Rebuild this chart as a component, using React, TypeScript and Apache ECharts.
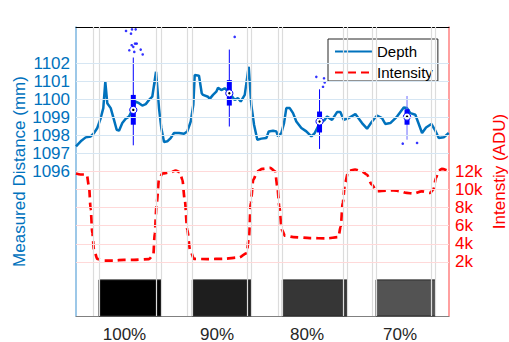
import React, { useEffect, useRef } from "react";
import * as echarts from "echarts";

// ---- data ----
const depthT = [0, 0.95, 1.95, 2.96, 3.62, 4.28, 4.97, 5.49, 5.89, 6.29, 6.98, 7.64, 8.18, 8.65, 9.31, 9.99, 10.66, 11.32, 12.0, 12.67, 13.33, 14.02, 14.68, 15.34, 16.09, 16.69, 17.15, 17.7, 18.36, 19.04, 19.71, 20.71, 21.72, 22.38, 23.07, 23.59, 23.87, 24.73, 25.28, 25.54, 26.54, 26.89, 27.55, 28.21, 28.56, 29.22, 29.9, 30.91, 31.91, 32.58, 33.12, 33.93, 34.73, 35.25, 35.8, 36.46, 37.27, 38.27, 38.75, 39.62, 40.28, 40.62, 41.29, 41.83, 42.29, 42.98, 43.64, 44.3, 45.31, 46.31, 47.32, 48.0, 49.01, 50.01, 50.48, 51.48, 52.49, 53.15, 53.83, 54.84, 56.17, 57.51, 58.52, 59.52, 60.53, 61.53, 62.2, 63.2, 64.55, 65.9, 66.56, 67.23, 68.23, 68.92, 69.58, 70.39, 71.45, 72.26, 72.94, 73.95, 74.95];
const depthMM = [1097.39, 1097.67, 1097.89, 1097.94, 1098.13, 1098.41, 1098.96, 1099.51, 1100.97, 1099.78, 1099.51, 1098.86, 1098.31, 1098.26, 1098.68, 1098.92, 1099.04, 1099.41, 1099.87, 1099.78, 1099.65, 1099.73, 1099.96, 1100.14, 1101.52, 1099.51, 1098.41, 1097.63, 1097.67, 1097.85, 1098.13, 1098.13, 1098.09, 1098.22, 1098.77, 1099.69, 1101.34, 1101.3, 1100.33, 1100.24, 1100.14, 1100.02, 1100.24, 1100.42, 1100.64, 1100.51, 1100.61, 1100.33, 1099.96, 1100.06, 1099.87, 1100.24, 1101.8, 1099.69, 1098.59, 1097.76, 1097.82, 1097.85, 1098.22, 1098.26, 1098.22, 1097.94, 1098.13, 1098.68, 1099.51, 1099.51, 1099.23, 1098.77, 1098.41, 1098.22, 1097.94, 1098.13, 1098.68, 1098.86, 1099.04, 1098.86, 1099.29, 1099.29, 1098.86, 1098.96, 1099.18, 1098.68, 1098.37, 1098.77, 1099.1, 1098.96, 1098.63, 1098.68, 1099.04, 1099.54, 1099.51, 1099.23, 1099.14, 1098.63, 1098.13, 1098.44, 1098.63, 1098.26, 1097.85, 1097.89, 1098.13];

const intensityT = [0, 0.95, 2.15, 2.61, 2.96, 3.28, 3.62, 4.28, 5.63, 7.64, 9.65, 11.66, 14.68, 15.55, 15.83, 16.23, 16.69, 17.36, 19.04, 20.05, 20.91, 21.38, 21.86, 22.38, 22.93, 23.73, 26.4, 29.76, 32.78, 34.33, 34.79, 35.13, 35.66, 36.46, 37.47, 39.01, 40.02, 40.48, 40.88, 41.37, 42.03, 43.7, 47.06, 50.42, 52.75, 53.23, 53.63, 54.1, 54.76, 56.11, 57.45, 58.46, 59.46, 60.47, 62.48, 63.81, 65.16, 66.5, 67.83, 69.52, 71.19, 71.85, 72.39, 72.86, 73.54, 74.55];
const intensityADU = [11780, 11670, 11670, 10370, 7780, 5190, 3330, 2330, 2140, 2140, 2220, 2220, 2300, 2780, 5190, 8520, 11110, 11780, 11920, 12110, 11920, 11110, 8890, 5560, 3330, 2330, 2300, 2330, 2480, 2970, 4810, 8520, 11110, 12030, 12300, 12410, 12030, 10370, 8140, 5560, 4890, 4740, 4630, 4590, 4740, 5920, 8520, 10740, 12030, 12220, 12030, 11670, 10560, 9810, 9890, 9920, 9810, 9630, 9560, 9810, 9630, 10000, 11300, 12030, 12300, 12140];

const categories = ["100%", "90%", "80%", "70%"];
const categoryLabelT = [9.75, 28.36, 46.46, 65.16];
const targetStart = [4.62, 23.39, 41.49, 60.33];
const targetEnd = [17.15, 35.25, 54.5, 72.26];
const targetShade = ["#000000", "#1e1e1e", "#363636", "#535353"];
const transitionT = [3.42, 16.09, 22.32, 34.39, 40.62, 53.69, 59.52, 71.39];

const boxT = [11.52, 30.83, 48.97, 66.56];
const boxLow = [1097.45, 1098.49, 1097.25, 1097.76];
const boxQ1 = [1098.59, 1099.65, 1098.16, 1098.59];
const boxMed = [1099.41, 1100.33, 1098.77, 1099.04];
const boxQ3 = [1100.24, 1101.06, 1099.32, 1099.45];
const boxHigh = [1102.31, 1102.75, 1100.55, 1100.18];

const outlierT = [10.06, 11.06, 11.26, 12.0, 11.87, 12.21, 11.52, 10.72, 11.72, 13.01, 13.41, 11.2, 31.91, 48.32, 49.87, 50.01, 49.67, 65.7, 68.58];
const outlierMM = [1103.78, 1103.63, 1103.87, 1103.87, 1103.08, 1103.08, 1102.9, 1102.71, 1102.62, 1102.75, 1102.48, 1102.99, 1103.45, 1101.24, 1101.16, 1100.93, 1100.69, 1097.54, 1097.58];

const leftTicks = [1096, 1097, 1098, 1099, 1100, 1101, 1102];
const rightTicks = [2000, 4000, 6000, 8000, 10000, 12000];

const FONT = "'Liberation Sans', Arial, sans-serif";
const BLUE = "#0072BD";
const RED = "#FF0000";

export default function App() {
  const ref = useRef<HTMLDivElement>(null);
  useEffect(() => {
    document.body.style.margin = "0";
    const chart = echarts.init(ref.current!, null, { renderer: "svg" });
    const depthData = depthT.map((t, i) => [t, depthMM[i]]);
    const intData = intensityT.map((t, i) => [t, intensityADU[i]]);
    const boxData = boxT.map((t, i) => [t, boxLow[i], boxQ1[i], boxMed[i], boxQ3[i], boxHigh[i]]);
    const outData = outlierT.map((t, i) => [t, outlierMM[i]]);
    const vLines = [
      ...targetStart.map((v) => ({ xAxis: v })),
      ...targetEnd.map((v) => ({ xAxis: v })),
      ...transitionT.map((v) => ({ xAxis: v })),
    ];
    const option: any = {
      animation: false,
      textStyle: { fontFamily: FONT },
      grid: { left: 76, top: 27, right: 60, bottom: 26, containLabel: false, outerBoundsMode: "none" },
      legend: {
        data: ["Depth", "Intensity"],
        orient: "vertical",
        left: 328,
        top: 39,
        padding: [5, 5, 1, 6],
        itemGap: 6,
        itemWidth: 37,
        itemHeight: 14,
        backgroundColor: "#ffffff",
        borderColor: "#262626",
        borderWidth: 1,
        borderRadius: 0,
        itemStyle: { opacity: 0 },
        textStyle: { fontSize: 15, color: "#000", fontFamily: FONT },
      },
      xAxis: [
        {
          type: "value",
          position: "bottom",
          min: 0,
          max: 75,
          axisLine: { show: true, onZero: false, lineStyle: { color: "#808080", width: 1 } },
          axisTick: { show: false },
          splitLine: { show: false },
          axisLabel: {
            customValues: categoryLabelT,
            formatter: (v: number) => {
              let best = 0;
              categoryLabelT.forEach((c, i) => {
                if (Math.abs(c - v) < Math.abs(categoryLabelT[best] - v)) best = i;
              });
              return categories[best];
            },
            fontSize: 17,
            color: "#262626",
            margin: 10,
            fontFamily: FONT,
          },
        },
        {
          type: "value",
          position: "top",
          min: 0,
          max: 75,
          axisLine: { show: true, onZero: false, lineStyle: { color: "#000", width: 1 } },
          axisTick: {
            show: true,
            inside: true,
            length: 4,
            customValues: [...targetStart, ...targetEnd],
            lineStyle: { color: "#333" },
          },
          axisLabel: { show: false },
          splitLine: { show: false },
        },
      ],
      yAxis: [
        {
          type: "value",
          position: "left",
          min: 1088,
          max: 1104,
          name: "Measured Distance (mm)",
          nameLocation: "middle",
          nameRotate: 90,
          nameGap: 48,
          nameMoveOverlap: false,
          nameTextStyle: { color: BLUE, fontSize: 17, fontFamily: FONT },
          axisLine: { show: true, onZero: false, lineStyle: { color: "#7db6e0", width: 1.5 } },
          axisTick: { show: true, inside: true, length: 4, customValues: leftTicks, lineStyle: { color: BLUE } },
          axisLabel: {
            customValues: leftTicks,
            formatter: (v: number) => String(v),
            color: BLUE,
            fontSize: 17,
            margin: 6,
            fontFamily: FONT,
          },
          splitLine: { show: false },
        },
        {
          type: "value",
          position: "right",
          min: -4000,
          max: 28000,
          name: "Intenstiy (ADU)",
          nameLocation: "middle",
          nameRotate: 90,
          nameGap: 42,
          nameMoveOverlap: false,
          nameTextStyle: { color: RED, fontSize: 17, fontFamily: FONT },
          axisLine: { show: true, onZero: false, lineStyle: { color: "#ff8080", width: 1.5 } },
          axisTick: { show: true, inside: true, length: 4, customValues: rightTicks, lineStyle: { color: RED } },
          axisLabel: {
            customValues: rightTicks,
            formatter: (v: number) => v / 1000 + "k",
            color: RED,
            fontSize: 17,
            margin: 6,
            fontFamily: FONT,
          },
          splitLine: { show: false },
        },
        {
          type: "value",
          position: "right",
          min: 1088,
          max: 1104,
          axisLine: { show: false, onZero: false },
          axisTick: { show: true, inside: true, length: 4, customValues: leftTicks, lineStyle: { color: BLUE } },
          axisLabel: { show: false },
          splitLine: { show: false },
        },
      ],
      series: [
        {
          name: "gridV",
          type: "line",
          data: [],
          xAxisIndex: 0,
          yAxisIndex: 0,
          z: 1,
          silent: true,
          markLine: {
            silent: true,
            symbol: "none",
            label: { show: false },
            lineStyle: { color: "#dcdcdc", width: 1.2, type: "solid" },
            data: vLines,
          },
        },
        {
          name: "gridL",
          type: "line",
          data: [],
          yAxisIndex: 0,
          z: 1,
          silent: true,
          markLine: {
            silent: true,
            symbol: "none",
            label: { show: false },
            lineStyle: { color: "#d6e6f3", width: 1, type: "solid" },
            data: leftTicks.map((v) => ({ yAxis: v })),
          },
        },
        {
          name: "gridR",
          type: "line",
          data: [],
          yAxisIndex: 1,
          z: 1,
          silent: true,
          markLine: {
            silent: true,
            symbol: "none",
            label: { show: false },
            lineStyle: { color: "#ffd9d9", width: 1, type: "solid" },
            data: rightTicks.map((v) => ({ yAxis: v })),
          },
          markArea: {
            silent: true,
            data: targetStart.map((s, i) => [
              { xAxis: s, yAxis: -4000, itemStyle: { color: targetShade[i], borderColor: "#2a2a2a", borderWidth: 1 } },
              { xAxis: targetEnd[i], yAxis: 0 },
            ]),
          },
        },
        {
          name: "Intensity",
          type: "line",
          yAxisIndex: 1,
          data: intData,
          showSymbol: false,
          symbol: "none",
          smooth: 0.3,
          smoothMonotone: "x",
          z: 2,
          itemStyle: { color: RED },
          lineStyle: { color: RED, width: 2.7, type: [8, 5] },
        },
        {
          name: "Depth",
          type: "line",
          yAxisIndex: 0,
          data: depthData,
          showSymbol: false,
          symbol: "none",
          z: 3,
          itemStyle: { color: BLUE },
          lineStyle: { color: BLUE, width: 2.5 },
        },
        {
          name: "box",
          type: "custom",
          yAxisIndex: 0,
          z: 4,
          data: boxData,
          encode: { x: 0, y: [1, 2, 3, 4, 5] },
          renderItem: (params: any, api: any) => {
            const t = api.value(0);
            const pLow = api.coord([t, api.value(1)]);
            const pQ1 = api.coord([t, api.value(2)]);
            const pMed = api.coord([t, api.value(3)]);
            const pQ3 = api.coord([t, api.value(4)]);
            const pHigh = api.coord([t, api.value(5)]);
            const wColor = params.dataIndex === 3 ? "#6b6bff" : "#0000ff";
            return {
              type: "group",
              children: [
                { type: "line", shape: { x1: pLow[0], y1: pLow[1], x2: pHigh[0], y2: pHigh[1] }, style: { stroke: wColor, lineWidth: 1 } },
                { type: "rect", shape: { x: pQ3[0] - 2.5, y: pQ3[1], width: 5, height: pQ1[1] - pQ3[1] }, style: { fill: "#0000ff" } },
                { type: "circle", shape: { cx: pMed[0], cy: pMed[1], r: 3.6 }, style: { fill: "#ffffff", stroke: "#0000ff", lineWidth: 1 } },
                { type: "circle", shape: { cx: pMed[0], cy: pMed[1], r: 1.2 }, style: { fill: "#000000" } },
              ],
            };
          },
        },
        {
          name: "outliers",
          type: "scatter",
          yAxisIndex: 0,
          z: 4,
          data: outData,
          symbol: "circle",
          symbolSize: 2.6,
          itemStyle: { color: "#0000ff" },
        },
      ],
    };
    chart.setOption(option);
    return () => chart.dispose();
  }, []);
  return <div ref={ref} style={{ position: "fixed", left: 0, top: 0, width: 509, height: 342, background: "#fff" }} />;
}
